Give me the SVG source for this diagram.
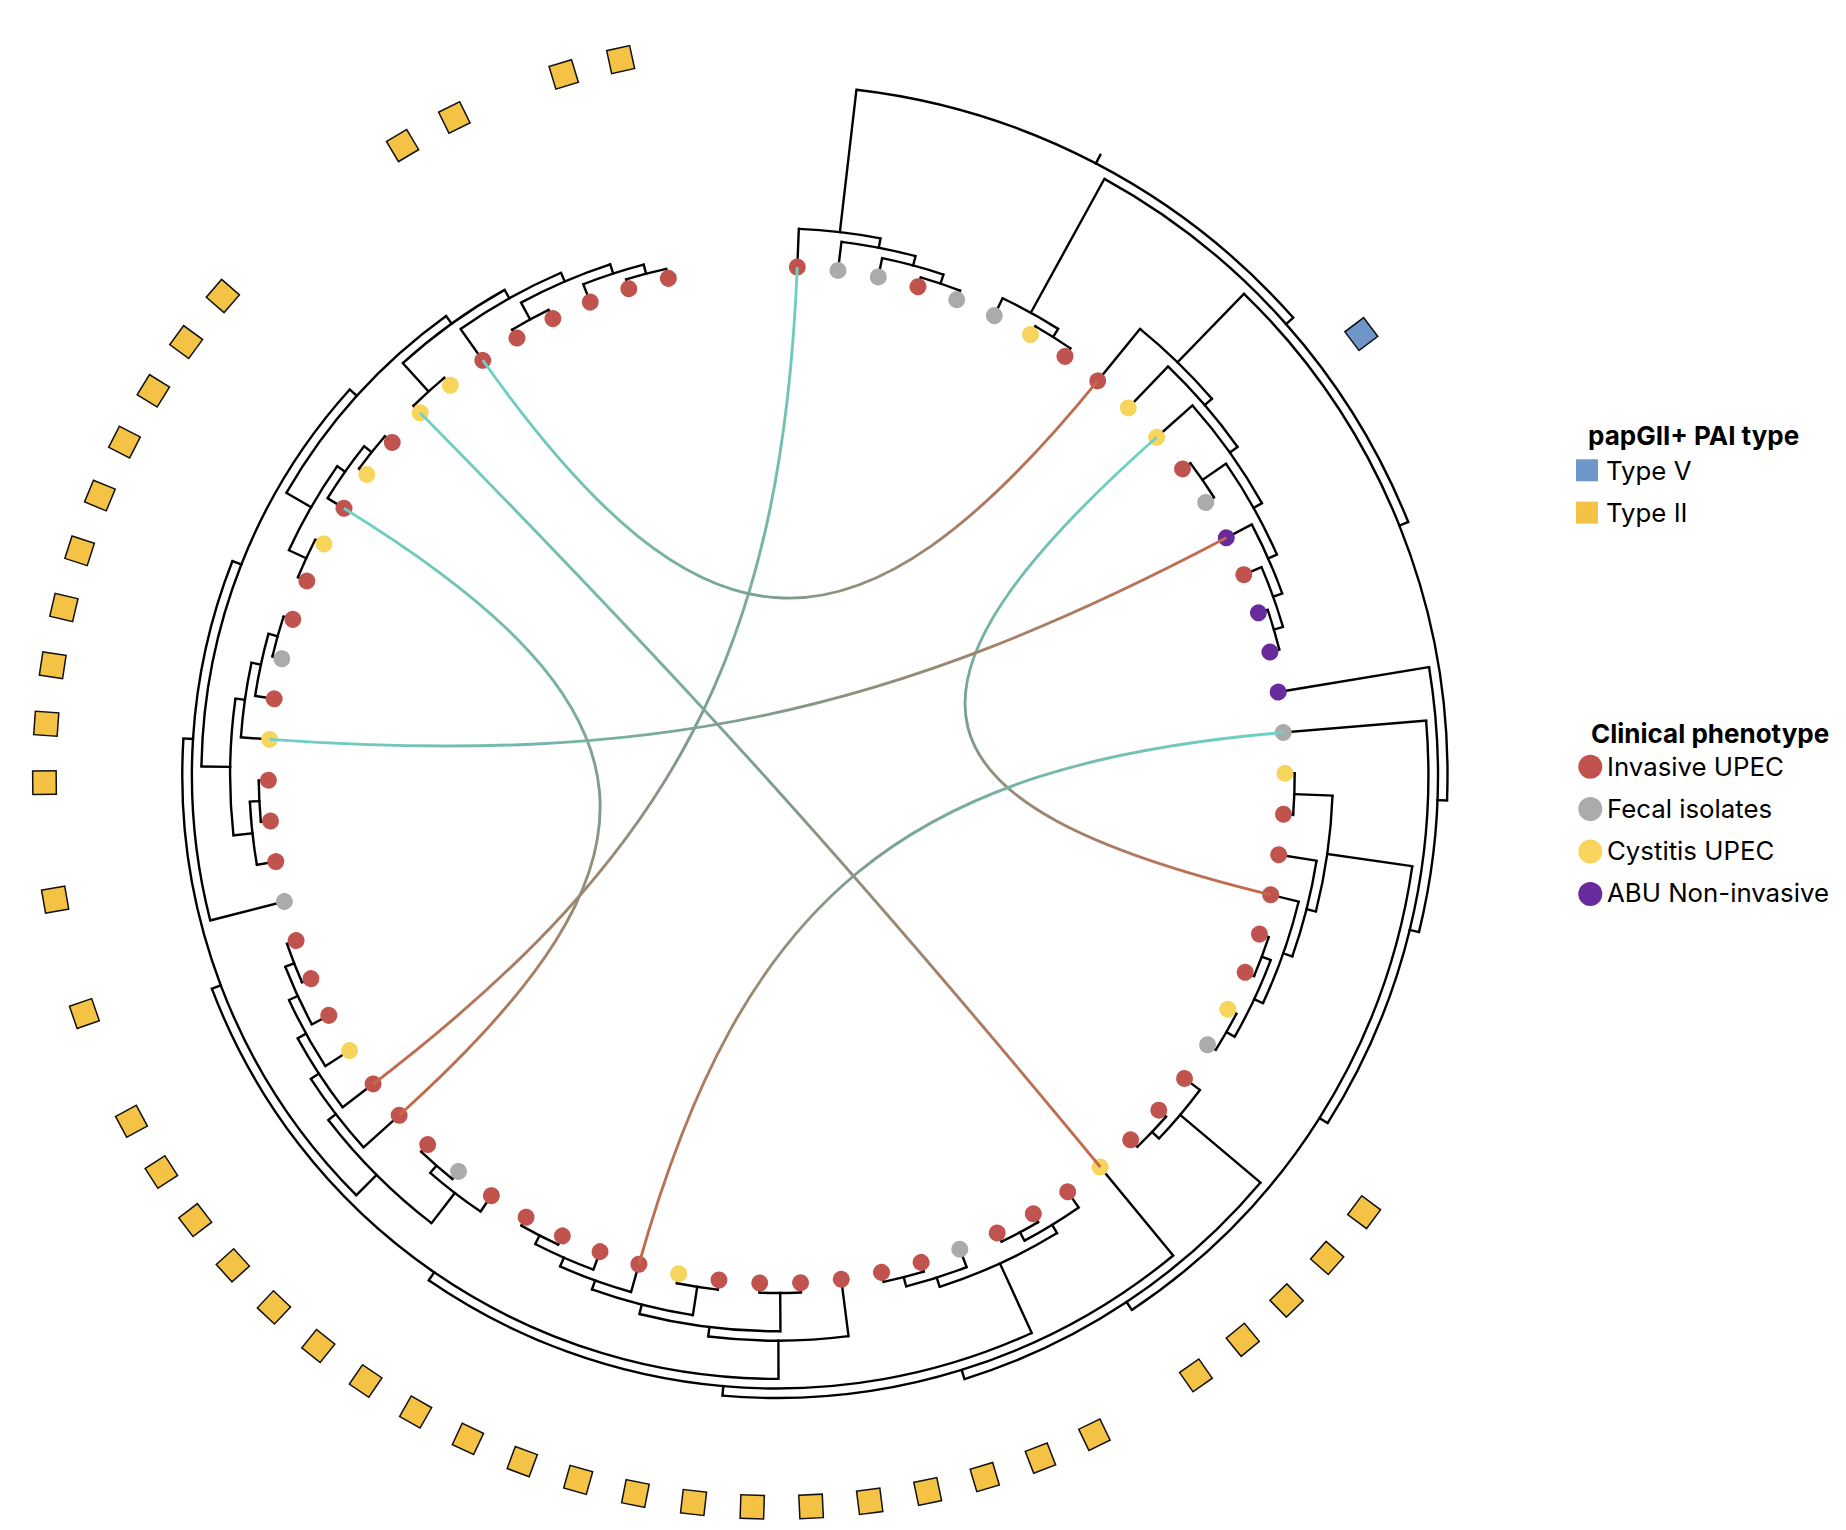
<svg xmlns="http://www.w3.org/2000/svg" width="1846" height="1530" viewBox="0 0 1846 1530">
<defs>
<style>
.br{stroke:#000;stroke-width:2.4;fill:none;stroke-linecap:square}
.ar{stroke:#000;stroke-width:2.4;fill:none}
.inv{fill:#C1534F}.fec{fill:#ABABAB}.cys{fill:#F7D55C}.abu{fill:#692A9B}
.t2{fill:#F4C244;stroke:#111;stroke-width:1.5}.t5{fill:#6F96C8;stroke:#111;stroke-width:1.5}
.lk{fill:none;stroke-width:2.9}
.lt{font-family:Inter,"Liberation Sans",sans-serif;font-size:26px;font-weight:700;fill:#000}
.li{font-family:Inter,"Liberation Sans",sans-serif;font-size:25.8px;fill:#000}
</style>
<linearGradient id="lg"><stop offset="0" stop-color="#6DD3C6"/><stop offset="0.5" stop-color="#7E9D8C"/><stop offset="1" stop-color="#C66848"/></linearGradient>
<linearGradient id="k1" href="#lg" gradientUnits="userSpaceOnUse" x1="797.28" y1="267.12" x2="373.17" y2="1084.07"/>
<linearGradient id="k2" href="#lg" gradientUnits="userSpaceOnUse" x1="343.98" y1="508.35" x2="399.10" y2="1115.27"/>
<linearGradient id="k3" href="#lg" gradientUnits="userSpaceOnUse" x1="482.81" y1="360.27" x2="1097.67" y2="380.86"/>
<linearGradient id="k4" href="#lg" gradientUnits="userSpaceOnUse" x1="420.17" y1="412.71" x2="1100.32" y2="1166.97"/>
<linearGradient id="k5" href="#lg" gradientUnits="userSpaceOnUse" x1="1156.59" y1="437.28" x2="1270.69" y2="894.79"/>
<linearGradient id="k6" href="#lg" gradientUnits="userSpaceOnUse" x1="269.65" y1="739.41" x2="1226.28" y2="537.83"/>
<linearGradient id="k7" href="#lg" gradientUnits="userSpaceOnUse" x1="1283.23" y1="732.56" x2="638.89" y2="1264.26"/>
</defs>
<rect width="1846" height="1530" fill="#fff"/>
<g transform="translate(776.7 775)">
<g id="tree">
<g class="br">
<line x1="508.4" x2="546.6" transform="rotate(-87.68)"/>
<line x1="508.4" x2="537.1" transform="rotate(-83.075)"/>
<line x1="508.4" x2="527.5" transform="rotate(-78.47)"/>
<line x1="508.4" x2="518" transform="rotate(-73.865)"/>
<line x1="508.4" x2="518" transform="rotate(-69.26)"/>
<line x1="508.4" x2="527.5" transform="rotate(-64.655)"/>
<line x1="508.4" x2="518" transform="rotate(-60.05)"/>
<line x1="508.4" x2="518" transform="rotate(-55.445)"/>
<line x1="508.4" x2="575.3" transform="rotate(-50.84)"/>
<line x1="508.4" x2="565.7" transform="rotate(-46.235)"/>
<line x1="508.4" x2="556.2" transform="rotate(-41.63)"/>
<line x1="508.4" x2="518" transform="rotate(-37.025)"/>
<line x1="508.4" x2="518" transform="rotate(-32.42)"/>
<line x1="508.4" x2="537.1" transform="rotate(-27.815)"/>
<line x1="508.4" x2="527.5" transform="rotate(-23.21)"/>
<line x1="508.4" x2="518" transform="rotate(-18.605)"/>
<line x1="508.4" x2="518" transform="rotate(-14)"/>
<line x1="508.4" x2="661.2" transform="rotate(-9.395)"/>
<line x1="508.4" x2="651.7" transform="rotate(-4.79)"/>
<line x1="508.4" x2="518" transform="rotate(-0.185)"/>
<line x1="508.4" x2="518" transform="rotate(4.42)"/>
<line x1="508.4" x2="546.6" transform="rotate(9.025)"/>
<line x1="508.4" x2="537.1" transform="rotate(13.63)"/>
<line x1="508.4" x2="518" transform="rotate(18.235)"/>
<line x1="508.4" x2="518" transform="rotate(22.84)"/>
<line x1="508.4" x2="518" transform="rotate(27.445)"/>
<line x1="508.4" x2="518" transform="rotate(32.05)"/>
<line x1="508.4" x2="527.5" transform="rotate(36.655)"/>
<line x1="508.4" x2="518" transform="rotate(41.26)"/>
<line x1="508.4" x2="518" transform="rotate(45.865)"/>
<line x1="508.4" x2="623" transform="rotate(50.47)"/>
<line x1="508.4" x2="527.5" transform="rotate(55.075)"/>
<line x1="508.4" x2="518" transform="rotate(59.68)"/>
<line x1="508.4" x2="518" transform="rotate(64.285)"/>
<line x1="508.4" x2="527.5" transform="rotate(68.89)"/>
<line x1="508.4" x2="518" transform="rotate(73.495)"/>
<line x1="508.4" x2="518" transform="rotate(78.1)"/>
<line x1="508.4" x2="565.7" transform="rotate(82.705)"/>
<line x1="508.4" x2="518" transform="rotate(87.31)"/>
<line x1="508.4" x2="518" transform="rotate(91.915)"/>
<line x1="508.4" x2="518" transform="rotate(96.52)"/>
<line x1="508.4" x2="518" transform="rotate(101.125)"/>
<line x1="508.4" x2="537.1" transform="rotate(105.73)"/>
<line x1="508.4" x2="527.5" transform="rotate(110.335)"/>
<line x1="508.4" x2="518" transform="rotate(114.94)"/>
<line x1="508.4" x2="518" transform="rotate(119.545)"/>
<line x1="508.4" x2="527.5" transform="rotate(124.15)"/>
<line x1="508.4" x2="518" transform="rotate(128.755)"/>
<line x1="508.4" x2="518" transform="rotate(133.36)"/>
<line x1="508.4" x2="556.2" transform="rotate(137.965)"/>
<line x1="508.4" x2="546.6" transform="rotate(142.57)"/>
<line x1="508.4" x2="537.1" transform="rotate(147.175)"/>
<line x1="508.4" x2="527.5" transform="rotate(151.78)"/>
<line x1="508.4" x2="518" transform="rotate(156.385)"/>
<line x1="508.4" x2="518" transform="rotate(160.99)"/>
<line x1="508.4" x2="584.8" transform="rotate(165.595)"/>
<line x1="508.4" x2="527.5" transform="rotate(170.2)"/>
<line x1="508.4" x2="518" transform="rotate(174.805)"/>
<line x1="508.4" x2="518" transform="rotate(179.41)"/>
<line x1="508.4" x2="537.1" transform="rotate(184.015)"/>
<line x1="508.4" x2="527.5" transform="rotate(188.62)"/>
<line x1="508.4" x2="518" transform="rotate(193.225)"/>
<line x1="508.4" x2="518" transform="rotate(197.83)"/>
<line x1="508.4" x2="518" transform="rotate(202.435)"/>
<line x1="508.4" x2="518" transform="rotate(207.04)"/>
<line x1="508.4" x2="527.5" transform="rotate(211.645)"/>
<line x1="508.4" x2="518" transform="rotate(216.25)"/>
<line x1="508.4" x2="518" transform="rotate(220.855)"/>
<line x1="508.4" x2="518" transform="rotate(225.46)"/>
<line x1="508.4" x2="518" transform="rotate(230.065)"/>
<line x1="508.4" x2="546.6" transform="rotate(234.67)"/>
<line x1="508.4" x2="518" transform="rotate(239.275)"/>
<line x1="508.4" x2="518" transform="rotate(243.88)"/>
<line x1="508.4" x2="527.5" transform="rotate(248.485)"/>
<line x1="508.4" x2="518" transform="rotate(253.09)"/>
<line x1="508.4" x2="518" transform="rotate(257.695)"/>
<line x1="518" x2="527.5" transform="rotate(-71.5625)"/>
<line x1="527.5" x2="537.1" transform="rotate(-75.016)"/>
<line x1="537.1" x2="546.6" transform="rotate(-79.046)"/>
<line x1="546.6" x2="689.9" transform="rotate(-83.363)"/>
<line x1="518" x2="527.5" transform="rotate(-57.748)"/>
<line x1="527.5" x2="680.3" transform="rotate(-61.201)"/>
<line x1="518" x2="527.5" transform="rotate(-16.303)"/>
<line x1="527.5" x2="537.1" transform="rotate(-19.756)"/>
<line x1="537.1" x2="546.6" transform="rotate(-23.786)"/>
<line x1="518" x2="546.6" transform="rotate(-34.723)"/>
<line x1="546.6" x2="556.2" transform="rotate(-29.254)"/>
<line x1="556.2" x2="565.7" transform="rotate(-35.442)"/>
<line x1="565.7" x2="575.3" transform="rotate(-40.839)"/>
<line x1="575.3" x2="670.8" transform="rotate(-45.839)"/>
<line x1="661.2" x2="670.8" transform="rotate(2.178)"/>
<line x1="670.8" x2="680.3" transform="rotate(-21.831)"/>
<line x1="680.3" x2="689.9" transform="rotate(-41.516)"/>
<line x1="689.9" x2="699.4" transform="rotate(-62.44)"/>
<line x1="651.7" x2="661.2" transform="rotate(13.751)"/>
<line x1="642.1" x2="651.7" transform="rotate(32.292)"/>
<line x1="556.2" x2="642.1" transform="rotate(8.162)"/>
<line x1="632.6" x2="642.1" transform="rotate(56.421)"/>
<line x1="518" x2="556.2" transform="rotate(2.118)"/>
<line x1="546.6" x2="556.2" transform="rotate(14.206)"/>
<line x1="537.1" x2="546.6" transform="rotate(19.386)"/>
<line x1="527.5" x2="537.1" transform="rotate(25.143)"/>
<line x1="518" x2="527.5" transform="rotate(20.538)"/>
<line x1="518" x2="527.5" transform="rotate(29.748)"/>
<line x1="527.5" x2="632.6" transform="rotate(40.109)"/>
<line x1="518" x2="527.5" transform="rotate(43.563)"/>
<line x1="623" x2="632.6" transform="rotate(72.732)"/>
<line x1="613.5" x2="623" transform="rotate(94.994)"/>
<line x1="537.1" x2="613.5" transform="rotate(65.437)"/>
<line x1="527.5" x2="537.1" transform="rotate(58.529)"/>
<line x1="518" x2="527.5" transform="rotate(61.983)"/>
<line x1="527.5" x2="537.1" transform="rotate(72.344)"/>
<line x1="518" x2="527.5" transform="rotate(75.798)"/>
<line x1="603.9" x2="613.5" transform="rotate(124.551)"/>
<line x1="565.7" x2="603.9" transform="rotate(89.829)"/>
<line x1="556.2" x2="565.7" transform="rotate(96.952)"/>
<line x1="518" x2="556.2" transform="rotate(89.613)"/>
<line x1="546.6" x2="556.2" transform="rotate(104.291)"/>
<line x1="518" x2="546.6" transform="rotate(98.823)"/>
<line x1="537.1" x2="546.6" transform="rotate(109.76)"/>
<line x1="527.5" x2="537.1" transform="rotate(113.789)"/>
<line x1="518" x2="527.5" transform="rotate(117.243)"/>
<line x1="594.4" x2="603.9" transform="rotate(159.273)"/>
<line x1="565.7" x2="594.4" transform="rotate(135.016)"/>
<line x1="527.5" x2="565.7" transform="rotate(127.604)"/>
<line x1="518" x2="527.5" transform="rotate(131.058)"/>
<line x1="556.2" x2="565.7" transform="rotate(142.427)"/>
<line x1="546.6" x2="556.2" transform="rotate(146.888)"/>
<line x1="537.1" x2="546.6" transform="rotate(151.205)"/>
<line x1="527.5" x2="537.1" transform="rotate(155.234)"/>
<line x1="518" x2="527.5" transform="rotate(158.688)"/>
<line x1="584.8" x2="594.4" transform="rotate(183.53)"/>
<line x1="575.3" x2="584.8" transform="rotate(201.465)"/>
<line x1="546.6" x2="575.3" transform="rotate(180.85)"/>
<line x1="527.5" x2="546.6" transform="rotate(173.654)"/>
<line x1="518" x2="527.5" transform="rotate(177.108)"/>
<line x1="537.1" x2="546.6" transform="rotate(188.045)"/>
<line x1="527.5" x2="537.1" transform="rotate(192.074)"/>
<line x1="518" x2="527.5" transform="rotate(195.528)"/>
<line x1="565.7" x2="575.3" transform="rotate(222.079)"/>
<line x1="537.1" x2="565.7" transform="rotate(209.919)"/>
<line x1="518" x2="537.1" transform="rotate(204.738)"/>
<line x1="527.5" x2="537.1" transform="rotate(215.099)"/>
<line x1="518" x2="527.5" transform="rotate(218.553)"/>
<line x1="556.2" x2="565.7" transform="rotate(234.239)"/>
<line x1="518" x2="556.2" transform="rotate(227.763)"/>
<line x1="546.6" x2="556.2" transform="rotate(240.715)"/>
<line x1="537.1" x2="546.6" transform="rotate(246.759)"/>
<line x1="518" x2="537.1" transform="rotate(241.578)"/>
<line x1="527.5" x2="537.1" transform="rotate(251.939)"/>
<line x1="518" x2="527.5" transform="rotate(255.393)"/>
</g>
<g class="ar">
<circle r="518" stroke-dasharray="41.63 9999" transform="rotate(-73.865)"/>
<circle r="527.5" stroke-dasharray="63.59 9999" transform="rotate(-78.47)"/>
<circle r="537.1" stroke-dasharray="75.55 9999" transform="rotate(-83.075)"/>
<circle r="546.6" stroke-dasharray="82.37 9999" transform="rotate(-87.68)"/>
<circle r="518" stroke-dasharray="41.63 9999" transform="rotate(-60.05)"/>
<circle r="527.5" stroke-dasharray="63.59 9999" transform="rotate(-64.655)"/>
<circle r="518" stroke-dasharray="41.63 9999" transform="rotate(-18.605)"/>
<circle r="527.5" stroke-dasharray="63.59 9999" transform="rotate(-23.21)"/>
<circle r="537.1" stroke-dasharray="75.55 9999" transform="rotate(-27.815)"/>
<circle r="518" stroke-dasharray="41.63 9999" transform="rotate(-37.025)"/>
<circle r="546.6" stroke-dasharray="104.34 9999" transform="rotate(-34.723)"/>
<circle r="556.2" stroke-dasharray="120.14 9999" transform="rotate(-41.63)"/>
<circle r="565.7" stroke-dasharray="106.56 9999" transform="rotate(-46.235)"/>
<circle r="575.3" stroke-dasharray="100.42 9999" transform="rotate(-50.84)"/>
<circle r="670.8" stroke-dasharray="562.17 9999" transform="rotate(-45.839)"/>
<circle r="680.3" stroke-dasharray="467.46 9999" transform="rotate(-61.201)"/>
<circle r="689.9" stroke-dasharray="503.88 9999" transform="rotate(-83.363)"/>
<circle r="661.2" stroke-dasharray="267.11 9999" transform="rotate(-9.395)"/>
<circle r="651.7" stroke-dasharray="421.78 9999" transform="rotate(-4.79)"/>
<circle r="642.1" stroke-dasharray="540.83 9999" transform="rotate(8.162)"/>
<circle r="632.6" stroke-dasharray="360.19 9999" transform="rotate(40.109)"/>
<circle r="623" stroke-dasharray="484.13 9999" transform="rotate(50.47)"/>
<circle r="613.5" stroke-dasharray="632.97 9999" transform="rotate(65.437)"/>
<circle r="603.9" stroke-dasharray="731.93 9999" transform="rotate(89.829)"/>
<circle r="594.4" stroke-dasharray="503.3 9999" transform="rotate(135.016)"/>
<circle r="584.8" stroke-dasharray="366.11 9999" transform="rotate(165.595)"/>
<circle r="575.3" stroke-dasharray="413.97 9999" transform="rotate(180.85)"/>
<circle r="565.7" stroke-dasharray="240.12 9999" transform="rotate(209.919)"/>
<circle r="556.2" stroke-dasharray="125.73 9999" transform="rotate(227.763)"/>
<circle r="546.6" stroke-dasharray="115.33 9999" transform="rotate(234.67)"/>
<circle r="537.1" stroke-dasharray="97.13 9999" transform="rotate(241.578)"/>
<circle r="527.5" stroke-dasharray="63.6 9999" transform="rotate(248.485)"/>
<circle r="518" stroke-dasharray="41.63 9999" transform="rotate(253.09)"/>
<circle r="518" stroke-dasharray="41.63 9999" transform="rotate(239.275)"/>
<circle r="518" stroke-dasharray="41.63 9999" transform="rotate(225.46)"/>
<circle r="537.1" stroke-dasharray="97.13 9999" transform="rotate(204.738)"/>
<circle r="518" stroke-dasharray="41.63 9999" transform="rotate(202.435)"/>
<circle r="527.5" stroke-dasharray="63.6 9999" transform="rotate(211.645)"/>
<circle r="518" stroke-dasharray="41.63 9999" transform="rotate(216.25)"/>
<circle r="546.6" stroke-dasharray="137.29 9999" transform="rotate(173.654)"/>
<circle r="527.5" stroke-dasharray="63.6 9999" transform="rotate(170.2)"/>
<circle r="518" stroke-dasharray="41.63 9999" transform="rotate(174.805)"/>
<circle r="537.1" stroke-dasharray="75.55 9999" transform="rotate(184.015)"/>
<circle r="527.5" stroke-dasharray="63.6 9999" transform="rotate(188.62)"/>
<circle r="518" stroke-dasharray="41.63 9999" transform="rotate(193.225)"/>
<circle r="565.7" stroke-dasharray="146.35 9999" transform="rotate(127.604)"/>
<circle r="527.5" stroke-dasharray="63.6 9999" transform="rotate(124.15)"/>
<circle r="518" stroke-dasharray="41.63 9999" transform="rotate(128.755)"/>
<circle r="556.2" stroke-dasharray="86.62 9999" transform="rotate(137.965)"/>
<circle r="546.6" stroke-dasharray="82.38 9999" transform="rotate(142.57)"/>
<circle r="537.1" stroke-dasharray="75.55 9999" transform="rotate(147.175)"/>
<circle r="527.5" stroke-dasharray="63.6 9999" transform="rotate(151.78)"/>
<circle r="518" stroke-dasharray="41.63 9999" transform="rotate(156.385)"/>
<circle r="565.7" stroke-dasharray="140.67 9999" transform="rotate(82.705)"/>
<circle r="556.2" stroke-dasharray="142.49 9999" transform="rotate(89.613)"/>
<circle r="546.6" stroke-dasharray="104.34 9999" transform="rotate(98.823)"/>
<circle r="537.1" stroke-dasharray="75.55 9999" transform="rotate(105.73)"/>
<circle r="527.5" stroke-dasharray="63.6 9999" transform="rotate(110.335)"/>
<circle r="518" stroke-dasharray="41.63 9999" transform="rotate(114.94)"/>
<circle r="518" stroke-dasharray="41.63 9999" transform="rotate(87.31)"/>
<circle r="518" stroke-dasharray="41.63 9999" transform="rotate(96.52)"/>
<circle r="537.1" stroke-dasharray="129.5 9999" transform="rotate(58.529)"/>
<circle r="527.5" stroke-dasharray="63.6 9999" transform="rotate(55.075)"/>
<circle r="518" stroke-dasharray="41.63 9999" transform="rotate(59.68)"/>
<circle r="527.5" stroke-dasharray="63.6 9999" transform="rotate(68.89)"/>
<circle r="518" stroke-dasharray="41.63 9999" transform="rotate(73.495)"/>
<circle r="527.5" stroke-dasharray="63.6 9999" transform="rotate(36.655)"/>
<circle r="518" stroke-dasharray="41.63 9999" transform="rotate(41.26)"/>
<circle r="556.2" stroke-dasharray="117.35 9999" transform="rotate(2.118)"/>
<circle r="546.6" stroke-dasharray="98.84 9999" transform="rotate(9.025)"/>
<circle r="537.1" stroke-dasharray="107.92 9999" transform="rotate(13.63)"/>
<circle r="527.5" stroke-dasharray="84.79 9999" transform="rotate(20.538)"/>
<circle r="518" stroke-dasharray="41.63 9999" transform="rotate(-0.185)"/>
<circle r="518" stroke-dasharray="41.63 9999" transform="rotate(18.235)"/>
<circle r="518" stroke-dasharray="41.63 9999" transform="rotate(27.445)"/>
</g>
</g>
<g id="leaves">
<g id="leaf-1" transform="rotate(-87.68)"><circle class="inv" cx="508.3" r="8.5"/></g>
<g id="leaf-2" transform="rotate(-83.075)"><circle class="fec" cx="508.3" r="8.5"/></g>
<g id="leaf-3" transform="rotate(-78.47)"><circle class="fec" cx="508.3" r="8.5"/></g>
<g id="leaf-4" transform="rotate(-73.865)"><circle class="inv" cx="508.3" r="8.5"/></g>
<g id="leaf-5" transform="rotate(-69.26)"><circle class="fec" cx="508.3" r="8.5"/></g>
<g id="leaf-6" transform="rotate(-64.655)"><circle class="fec" cx="508.3" r="8.5"/></g>
<g id="leaf-7" transform="rotate(-60.05)"><circle class="cys" cx="508.3" r="8.5"/></g>
<g id="leaf-8" transform="rotate(-55.445)"><circle class="inv" cx="508.3" r="8.5"/></g>
<g id="leaf-9" transform="rotate(-50.84)"><circle class="inv" cx="508.3" r="8.5"/></g>
<g id="leaf-10" transform="rotate(-46.235)"><circle class="cys" cx="508.3" r="8.5"/></g>
<g id="leaf-11" transform="rotate(-41.63)"><circle class="cys" cx="508.3" r="8.5"/></g>
<g id="leaf-12" transform="rotate(-37.025)"><circle class="inv" cx="508.3" r="8.5"/><rect class="t5" x="720.5" y="-11.75" width="23.5" height="23.5"/></g>
<g id="leaf-13" transform="rotate(-32.42)"><circle class="fec" cx="508.3" r="8.5"/></g>
<g id="leaf-14" transform="rotate(-27.815)"><circle class="abu" cx="508.3" r="8.5"/></g>
<g id="leaf-15" transform="rotate(-23.21)"><circle class="inv" cx="508.3" r="8.5"/></g>
<g id="leaf-16" transform="rotate(-18.605)"><circle class="abu" cx="508.3" r="8.5"/></g>
<g id="leaf-17" transform="rotate(-14)"><circle class="abu" cx="508.3" r="8.5"/></g>
<g id="leaf-18" transform="rotate(-9.395)"><circle class="abu" cx="508.3" r="8.5"/></g>
<g id="leaf-19" transform="rotate(-4.79)"><circle class="fec" cx="508.3" r="8.5"/></g>
<g id="leaf-20" transform="rotate(-0.185)"><circle class="cys" cx="508.3" r="8.5"/></g>
<g id="leaf-21" transform="rotate(4.42)"><circle class="inv" cx="508.3" r="8.5"/></g>
<g id="leaf-22" transform="rotate(9.025)"><circle class="inv" cx="508.3" r="8.5"/></g>
<g id="leaf-23" transform="rotate(13.63)"><circle class="inv" cx="508.3" r="8.5"/></g>
<g id="leaf-24" transform="rotate(18.235)"><circle class="inv" cx="508.3" r="8.5"/></g>
<g id="leaf-25" transform="rotate(22.84)"><circle class="inv" cx="508.3" r="8.5"/></g>
<g id="leaf-26" transform="rotate(27.445)"><circle class="cys" cx="508.3" r="8.5"/></g>
<g id="leaf-27" transform="rotate(32.05)"><circle class="fec" cx="508.3" r="8.5"/></g>
<g id="leaf-28" transform="rotate(36.655)"><circle class="inv" cx="508.3" r="8.5"/><rect class="t2" x="720.5" y="-11.75" width="23.5" height="23.5"/></g>
<g id="leaf-29" transform="rotate(41.26)"><circle class="inv" cx="508.3" r="8.5"/><rect class="t2" x="720.5" y="-11.75" width="23.5" height="23.5"/></g>
<g id="leaf-30" transform="rotate(45.865)"><circle class="inv" cx="508.3" r="8.5"/><rect class="t2" x="720.5" y="-11.75" width="23.5" height="23.5"/></g>
<g id="leaf-31" transform="rotate(50.47)"><circle class="cys" cx="508.3" r="8.5"/><rect class="t2" x="720.5" y="-11.75" width="23.5" height="23.5"/></g>
<g id="leaf-32" transform="rotate(55.075)"><circle class="inv" cx="508.3" r="8.5"/><rect class="t2" x="720.5" y="-11.75" width="23.5" height="23.5"/></g>
<g id="leaf-33" transform="rotate(59.68)"><circle class="inv" cx="508.3" r="8.5"/></g>
<g id="leaf-34" transform="rotate(64.285)"><circle class="inv" cx="508.3" r="8.5"/><rect class="t2" x="720.5" y="-11.75" width="23.5" height="23.5"/></g>
<g id="leaf-35" transform="rotate(68.89)"><circle class="fec" cx="508.3" r="8.5"/><rect class="t2" x="720.5" y="-11.75" width="23.5" height="23.5"/></g>
<g id="leaf-36" transform="rotate(73.495)"><circle class="inv" cx="508.3" r="8.5"/><rect class="t2" x="720.5" y="-11.75" width="23.5" height="23.5"/></g>
<g id="leaf-37" transform="rotate(78.1)"><circle class="inv" cx="508.3" r="8.5"/><rect class="t2" x="720.5" y="-11.75" width="23.5" height="23.5"/></g>
<g id="leaf-38" transform="rotate(82.705)"><circle class="inv" cx="508.3" r="8.5"/><rect class="t2" x="720.5" y="-11.75" width="23.5" height="23.5"/></g>
<g id="leaf-39" transform="rotate(87.31)"><circle class="inv" cx="508.3" r="8.5"/><rect class="t2" x="720.5" y="-11.75" width="23.5" height="23.5"/></g>
<g id="leaf-40" transform="rotate(91.915)"><circle class="inv" cx="508.3" r="8.5"/><rect class="t2" x="720.5" y="-11.75" width="23.5" height="23.5"/></g>
<g id="leaf-41" transform="rotate(96.52)"><circle class="inv" cx="508.3" r="8.5"/><rect class="t2" x="720.5" y="-11.75" width="23.5" height="23.5"/></g>
<g id="leaf-42" transform="rotate(101.125)"><circle class="cys" cx="508.3" r="8.5"/><rect class="t2" x="720.5" y="-11.75" width="23.5" height="23.5"/></g>
<g id="leaf-43" transform="rotate(105.73)"><circle class="inv" cx="508.3" r="8.5"/><rect class="t2" x="720.5" y="-11.75" width="23.5" height="23.5"/></g>
<g id="leaf-44" transform="rotate(110.335)"><circle class="inv" cx="508.3" r="8.5"/><rect class="t2" x="720.5" y="-11.75" width="23.5" height="23.5"/></g>
<g id="leaf-45" transform="rotate(114.94)"><circle class="inv" cx="508.3" r="8.5"/><rect class="t2" x="720.5" y="-11.75" width="23.5" height="23.5"/></g>
<g id="leaf-46" transform="rotate(119.545)"><circle class="inv" cx="508.3" r="8.5"/><rect class="t2" x="720.5" y="-11.75" width="23.5" height="23.5"/></g>
<g id="leaf-47" transform="rotate(124.15)"><circle class="inv" cx="508.3" r="8.5"/><rect class="t2" x="720.5" y="-11.75" width="23.5" height="23.5"/></g>
<g id="leaf-48" transform="rotate(128.755)"><circle class="fec" cx="508.3" r="8.5"/><rect class="t2" x="720.5" y="-11.75" width="23.5" height="23.5"/></g>
<g id="leaf-49" transform="rotate(133.36)"><circle class="inv" cx="508.3" r="8.5"/><rect class="t2" x="720.5" y="-11.75" width="23.5" height="23.5"/></g>
<g id="leaf-50" transform="rotate(137.965)"><circle class="inv" cx="508.3" r="8.5"/><rect class="t2" x="720.5" y="-11.75" width="23.5" height="23.5"/></g>
<g id="leaf-51" transform="rotate(142.57)"><circle class="inv" cx="508.3" r="8.5"/><rect class="t2" x="720.5" y="-11.75" width="23.5" height="23.5"/></g>
<g id="leaf-52" transform="rotate(147.175)"><circle class="cys" cx="508.3" r="8.5"/><rect class="t2" x="720.5" y="-11.75" width="23.5" height="23.5"/></g>
<g id="leaf-53" transform="rotate(151.78)"><circle class="inv" cx="508.3" r="8.5"/><rect class="t2" x="720.5" y="-11.75" width="23.5" height="23.5"/></g>
<g id="leaf-54" transform="rotate(156.385)"><circle class="inv" cx="508.3" r="8.5"/></g>
<g id="leaf-55" transform="rotate(160.99)"><circle class="inv" cx="508.3" r="8.5"/><rect class="t2" x="720.5" y="-11.75" width="23.5" height="23.5"/></g>
<g id="leaf-56" transform="rotate(165.595)"><circle class="fec" cx="508.3" r="8.5"/></g>
<g id="leaf-57" transform="rotate(170.2)"><circle class="inv" cx="508.3" r="8.5"/><rect class="t2" x="720.5" y="-11.75" width="23.5" height="23.5"/></g>
<g id="leaf-58" transform="rotate(174.805)"><circle class="inv" cx="508.3" r="8.5"/></g>
<g id="leaf-59" transform="rotate(179.41)"><circle class="inv" cx="508.3" r="8.5"/><rect class="t2" x="720.5" y="-11.75" width="23.5" height="23.5"/></g>
<g id="leaf-60" transform="rotate(184.015)"><circle class="cys" cx="508.3" r="8.5"/><rect class="t2" x="720.5" y="-11.75" width="23.5" height="23.5"/></g>
<g id="leaf-61" transform="rotate(188.62)"><circle class="inv" cx="508.3" r="8.5"/><rect class="t2" x="720.5" y="-11.75" width="23.5" height="23.5"/></g>
<g id="leaf-62" transform="rotate(193.225)"><circle class="fec" cx="508.3" r="8.5"/><rect class="t2" x="720.5" y="-11.75" width="23.5" height="23.5"/></g>
<g id="leaf-63" transform="rotate(197.83)"><circle class="inv" cx="508.3" r="8.5"/><rect class="t2" x="720.5" y="-11.75" width="23.5" height="23.5"/></g>
<g id="leaf-64" transform="rotate(202.435)"><circle class="inv" cx="508.3" r="8.5"/><rect class="t2" x="720.5" y="-11.75" width="23.5" height="23.5"/></g>
<g id="leaf-65" transform="rotate(207.04)"><circle class="cys" cx="508.3" r="8.5"/><rect class="t2" x="720.5" y="-11.75" width="23.5" height="23.5"/></g>
<g id="leaf-66" transform="rotate(211.645)"><circle class="inv" cx="508.3" r="8.5"/><rect class="t2" x="720.5" y="-11.75" width="23.5" height="23.5"/></g>
<g id="leaf-67" transform="rotate(216.25)"><circle class="cys" cx="508.3" r="8.5"/><rect class="t2" x="720.5" y="-11.75" width="23.5" height="23.5"/></g>
<g id="leaf-68" transform="rotate(220.855)"><circle class="inv" cx="508.3" r="8.5"/><rect class="t2" x="720.5" y="-11.75" width="23.5" height="23.5"/></g>
<g id="leaf-69" transform="rotate(225.46)"><circle class="cys" cx="508.3" r="8.5"/></g>
<g id="leaf-70" transform="rotate(230.065)"><circle class="cys" cx="508.3" r="8.5"/></g>
<g id="leaf-71" transform="rotate(234.67)"><circle class="inv" cx="508.3" r="8.5"/></g>
<g id="leaf-72" transform="rotate(239.275)"><circle class="inv" cx="508.3" r="8.5"/><rect class="t2" x="720.5" y="-11.75" width="23.5" height="23.5"/></g>
<g id="leaf-73" transform="rotate(243.88)"><circle class="inv" cx="508.3" r="8.5"/><rect class="t2" x="720.5" y="-11.75" width="23.5" height="23.5"/></g>
<g id="leaf-74" transform="rotate(248.485)"><circle class="inv" cx="508.3" r="8.5"/></g>
<g id="leaf-75" transform="rotate(253.09)"><circle class="inv" cx="508.3" r="8.5"/><rect class="t2" x="720.5" y="-11.75" width="23.5" height="23.5"/></g>
<g id="leaf-76" transform="rotate(257.695)"><circle class="inv" cx="508.3" r="8.5"/><rect class="t2" x="720.5" y="-11.75" width="23.5" height="23.5"/></g>
</g>
</g>
<g id="links">
<path class="lk" stroke="url(#k1)" d="M797.28 267.12C781.84 648.0 675.80 852.28 373.17 1084.07"/>
<path class="lk" stroke="url(#k2)" d="M343.98 508.35C668.50 708.32 682.28 860.08 399.10 1115.27"/>
<path class="lk" stroke="url(#k3)" d="M482.81 360.27C703.21 671.30 856.96 676.44 1097.67 380.86"/>
<path class="lk" stroke="url(#k4)" d="M420.17 412.71C687.55 684.41 857.62 873.01 1100.32 1166.97"/>
<path class="lk" stroke="url(#k5)" d="M1156.59 437.28C871.69 690.55 900.22 804.95 1270.69 894.79"/>
<path class="lk" stroke="url(#k6)" d="M269.65 739.41C649.91 766.10 889.12 715.70 1226.28 537.83"/>
<path class="lk" stroke="url(#k7)" d="M1283.23 732.56C903.36 764.39 742.24 897.34 638.89 1264.26"/>
</g>
<g id="legend-pai">
<text class="lt" x="1588" y="445">papGII+ PAI type</text>
<rect x="1576" y="459.3" width="22" height="22" fill="#6F96C8"/>
<text class="li" x="1606" y="479.5">Type V</text>
<rect x="1576" y="501.6" width="22" height="22" fill="#F4C244"/>
<text class="li" x="1606" y="521.8">Type II</text>
</g>
<g id="legend-phenotype">
<text class="lt" x="1591" y="742.5">Clinical phenotype</text>
<circle class="inv" cx="1590.3" cy="766.7" r="12"/>
<text class="li" x="1607" y="775.5">Invasive UPEC</text>
<circle class="fec" cx="1590.3" cy="809" r="12"/>
<text class="li" x="1607" y="817.8">Fecal isolates</text>
<circle class="cys" cx="1590.3" cy="851.5" r="12"/>
<text class="li" x="1607" y="860">Cystitis UPEC</text>
<circle class="abu" cx="1590.3" cy="894" r="12"/>
<text class="li" x="1607" y="902.2">ABU Non-invasive</text>
</g>
</svg>
